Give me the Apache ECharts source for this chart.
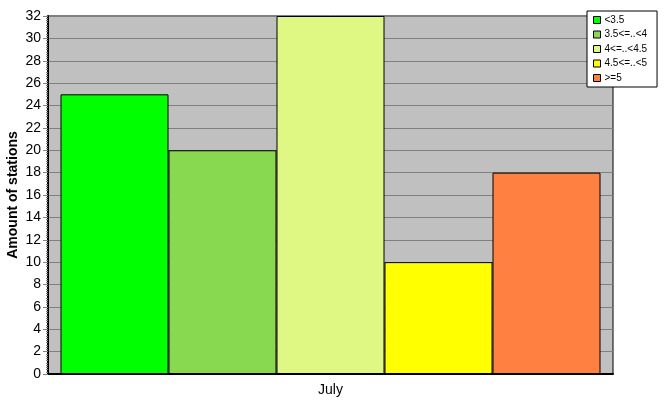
<!DOCTYPE html>
<html>
<head>
<meta charset="utf-8">
<title>Stations</title>
<script src="https://cdn.jsdelivr.net/npm/echarts@6/dist/echarts.min.js"></script>
<style>
  html, body { margin: 0; padding: 0; background: #fff; }
  #main { width: 667px; height: 415px; }
</style>
</head>
<body>
<div id="main"></div>
<script type="text/javascript">
    var categories = ['July'];
    var seriesNames = ['<3.5', '3.5<=..<4', '4<=..<4.5', '4.5<=..<5', '>=5'];
    var seriesValues = [[25], [20], [32], [10], [18]];
    var seriesColors = ['#00ff00', '#88d850', '#dff884', '#ffff00', '#ff8040'];

    var chart = echarts.init(document.getElementById('main'));

    var series = seriesNames.map(function (name, i) {
        return {
            name: name,
            type: 'bar',
            data: seriesValues[i],
            barWidth: 108,
            barGap: '0%',
            itemStyle: {
                color: seriesColors[i],
                borderColor: '#000',
                borderWidth: 1
            }
        };
    });

    var option = {
        animation: false,
        textStyle: { fontFamily: 'Liberation Sans' },
        legend: {
            data: seriesNames,
            orient: 'vertical',
            left: 587,
            top: 11,
            width: 64,
            padding: [4, 10, 4, 6],
            itemGap: 4.5,
            itemWidth: 7,
            itemHeight: 7,
            icon: 'rect',
            backgroundColor: '#fff',
            borderColor: '#000',
            borderWidth: 1,
            borderRadius: 0,
            itemStyle: { borderColor: '#000', borderWidth: 1 },
            textStyle: { fontSize: 10, color: '#000', fontFamily: 'Liberation Sans', padding: [0, 0, 0, -1] }
        },
        grid: {
            left: 48,
            right: 54,
            top: 16,
            bottom: 41,
            outerBoundsMode: 'none',
            containLabel: false,
            show: true,
            backgroundColor: '#c0c0c0',
            borderColor: '#000',
            borderWidth: 1
        },
        xAxis: {
            type: 'category',
            data: categories,
            axisLine: { lineStyle: { color: '#000', width: 2 } },
            axisTick: { alignWithLabel: true, length: 4, lineStyle: { color: '#808080' } },
            axisLabel: { fontSize: 14, color: '#000', margin: 9 }
        },
        yAxis: {
            type: 'value',
            min: 0,
            max: 32,
            interval: 2,
            name: 'Amount of stations',
            nameLocation: 'middle',
            nameGap: 28,
            nameMoveOverlap: false,
            nameTextStyle: { fontSize: 14, fontWeight: 'bold', color: '#000', fontFamily: 'Liberation Sans' },
            axisLine: { show: true, lineStyle: { color: '#000', width: 2 } },
            axisTick: { show: true, length: 5, lineStyle: { color: '#808080' } },
            minorTick: { show: true, splitNumber: 10, length: 2, lineStyle: { color: '#808080' } },
            axisLabel: { fontSize: 14, color: '#000', margin: 7 },
            splitLine: { lineStyle: { color: '#808080', width: 1 } }
        },
        series: series
    };

    chart.setOption(option);
</script>
</body>
</html>
